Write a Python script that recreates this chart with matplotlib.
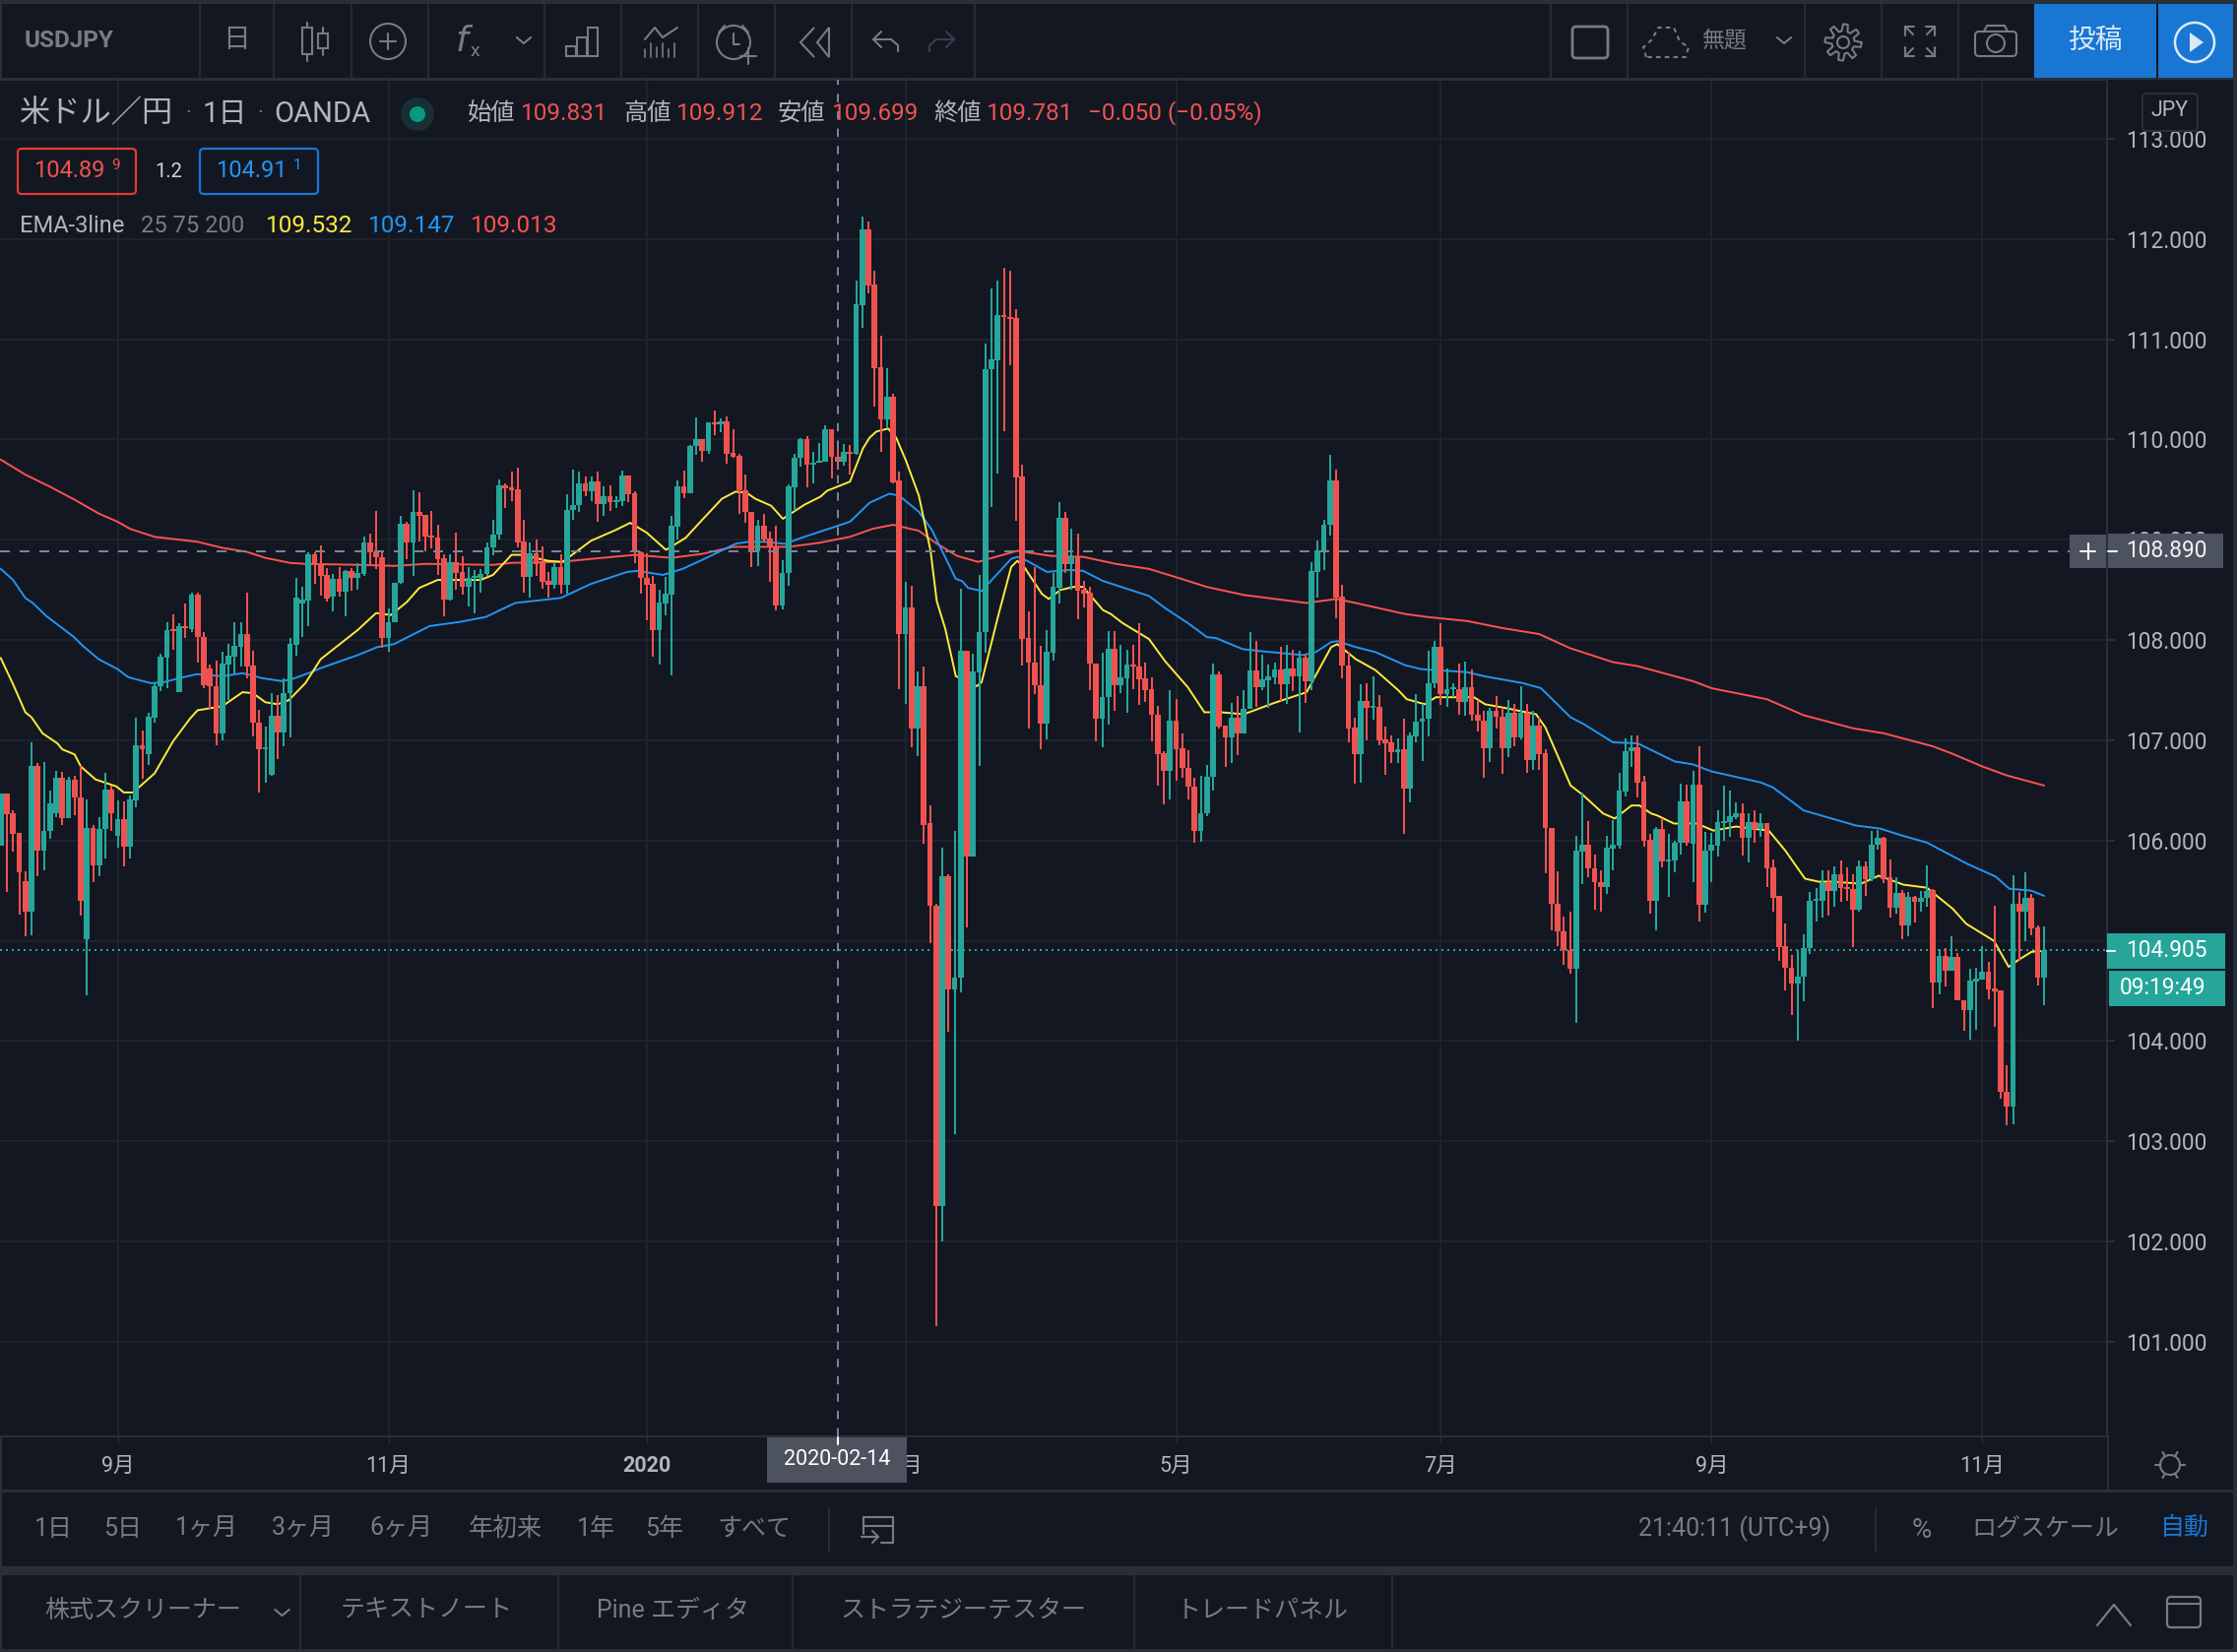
#!/usr/bin/env python
import numpy as np
import matplotlib
matplotlib.use('Agg')
import matplotlib.pyplot as plt
from matplotlib.patches import Rectangle, Circle, FancyBboxPatch, Polygon

plt.rcParams['font.family'] = ['Roboto', 'Noto Sans CJK JP', 'DejaVu Sans']

# Daily candles (first candle is cut by the left edge)
opens = [105.95,
  106.47,106.27,106.08,105.60,105.29,106.74,105.90,106.10,106.27,106.63,
  106.22,106.61,106.43,105.02,106.13,105.75,106.12,106.51,106.05,106.21,
  105.94,106.40,106.95,106.86,107.23,107.54,107.82,108.11,107.48,108.14,
  108.11,108.45,108.03,107.72,107.54,107.07,107.76,107.83,107.93,108.06,
  107.75,107.18,106.91,106.66,107.25,107.08,107.47,107.95,108.36,108.39,
  108.86,108.75,108.65,108.43,108.61,108.48,108.69,108.62,108.66,108.97,
  108.88,108.83,108.02,108.18,108.57,109.16,108.97,109.28,109.25,109.04,
  109.02,108.82,108.40,108.78,108.68,108.53,108.62,108.62,108.66,108.92,
  109.05,109.54,109.52,109.50,108.98,108.63,108.87,108.79,108.59,108.55,
  108.73,108.55,109.30,109.35,109.56,109.48,109.58,109.36,109.44,109.38,
  109.39,109.64,109.46,108.88,108.62,108.56,108.10,108.36,108.45,109.13,
  109.53,109.46,109.94,110.00,109.89,110.17,110.15,110.18,109.87,109.84,
  109.49,109.28,108.89,109.14,109.01,108.93,108.35,108.67,109.52,109.82,
  110.00,109.75,109.77,109.78,110.10,109.83,109.78,109.88,109.86,111.34,
  112.10,111.55,110.72,110.20,110.43,109.59,108.06,108.33,107.12,107.54,
  106.17,105.35,102.35,105.64,104.52,104.63,107.89,105.84,107.68,108.08,
  110.70,110.79,111.24,111.22,111.21,109.63,108.02,107.78,107.55,107.17,
  107.87,108.52,109.22,108.76,108.84,108.50,108.47,107.77,107.22,107.43,
  107.91,107.55,107.62,107.76,107.74,107.62,107.51,107.26,106.87,106.70,
  107.20,106.92,106.72,106.54,106.10,106.27,106.64,107.66,107.15,107.03,
  107.23,107.07,107.31,107.70,107.53,107.60,107.63,107.71,107.56,107.72,
  107.64,107.82,107.59,108.68,108.90,109.15,109.59,108.43,107.75,107.13,
  106.86,107.39,107.32,107.33,107.01,106.98,106.88,106.91,106.52,107.04,
  107.19,107.22,107.57,107.93,107.46,107.51,107.51,107.38,107.53,107.26,
  107.20,106.92,107.29,107.24,106.92,107.27,107.03,107.27,106.80,107.15,
  106.87,106.13,105.37,105.09,104.91,104.72,105.89,105.96,105.72,105.59,
  105.54,105.92,105.95,106.49,106.89,106.93,106.59,106.01,105.40,106.12,
  105.79,105.80,105.98,106.39,105.97,106.56,105.36,105.90,105.95,106.17,
  106.18,106.23,106.27,106.03,106.18,106.12,106.17,105.73,105.45,104.95,
  104.73,104.57,104.64,104.93,105.40,105.40,105.58,105.50,105.66,105.54,
  105.52,105.31,105.74,105.62,105.96,106.03,105.63,105.33,105.48,105.15,
  105.44,105.39,105.43,105.51,104.58,104.85,104.70,104.84,104.41,104.31,
  104.59,104.61,104.69,104.53,104.51,103.49,103.35,105.37,105.29,105.43,105.13,104.63]
closes = [106.47,
  106.26,106.07,105.68,105.29,106.74,105.90,106.10,106.37,106.63,106.22,
  106.61,106.43,105.40,106.13,105.75,106.12,106.51,106.27,106.21,105.94,
  106.41,106.95,106.91,107.24,107.54,107.83,108.10,108.09,108.14,108.12,
  108.45,108.03,107.55,107.54,107.07,107.77,107.84,107.94,108.06,107.74,
  107.18,106.91,106.92,107.25,107.08,107.47,107.96,108.42,108.40,108.86,
  108.75,108.64,108.41,108.61,108.48,108.69,108.62,108.67,108.97,108.88,
  108.83,108.02,108.18,108.57,109.16,108.97,109.28,109.24,109.03,109.02,
  108.81,108.40,108.78,108.67,108.53,108.62,108.63,108.66,108.92,109.05,
  109.54,109.51,109.49,108.97,108.63,108.87,108.76,108.58,108.55,108.73,
  108.55,109.30,109.35,109.56,109.48,109.58,109.36,109.44,109.38,109.40,
  109.64,109.45,108.89,108.62,108.55,108.10,108.37,108.46,109.14,109.53,
  109.46,109.94,110.00,109.89,110.17,110.15,110.18,109.86,109.83,109.49,
  109.28,108.89,109.14,109.00,108.93,108.35,108.67,109.53,109.82,110.00,
  109.75,109.77,109.79,110.10,109.83,109.78,109.88,109.86,111.35,112.10,
  111.54,110.71,110.20,110.43,109.57,108.06,108.33,107.12,107.54,106.16,
  105.35,102.35,105.64,104.52,104.63,107.89,105.84,107.69,108.08,110.70,
  110.80,111.24,111.22,111.20,109.62,108.01,107.78,107.55,107.17,107.88,
  108.53,109.22,108.76,108.84,108.49,108.46,107.77,107.22,107.43,107.91,
  107.55,107.63,107.76,107.74,107.61,107.50,107.26,106.86,106.70,107.20,
  106.91,106.72,106.54,106.10,106.27,106.64,107.66,107.14,107.03,107.23,
  107.07,107.31,107.70,107.53,107.61,107.64,107.71,107.56,107.72,107.64,
  107.82,107.59,108.69,108.90,109.15,109.59,108.42,107.75,107.12,106.86,
  107.39,107.32,107.33,107.00,106.97,106.88,106.91,106.52,107.05,107.19,
  107.22,107.57,107.93,107.46,107.51,107.52,107.38,107.53,107.26,107.20,
  106.92,107.29,107.24,106.92,107.27,107.03,107.27,106.80,107.15,106.86,
  106.13,105.37,105.09,104.91,104.72,105.90,105.96,105.72,105.59,105.54,
  105.93,105.96,106.50,106.89,106.93,106.58,106.00,105.40,106.12,105.79,
  105.80,105.98,106.39,105.98,106.56,105.36,105.90,105.96,106.18,106.19,
  106.24,106.27,106.03,106.18,106.12,106.17,105.72,105.43,104.94,104.73,
  104.57,104.64,104.93,105.40,105.41,105.58,105.50,105.66,105.53,105.52,
  105.31,105.74,105.62,105.96,106.03,105.62,105.33,105.48,105.15,105.44,
  105.39,105.43,105.50,104.58,104.85,104.70,104.84,104.41,104.31,104.60,
  104.62,104.69,104.52,104.50,103.49,103.35,105.37,105.29,105.43,105.12,104.63,104.905]
highs = [106.47,
  106.47,106.30,106.08,105.69,106.98,106.77,106.78,106.50,106.70,106.69,
  106.64,106.65,106.74,106.41,106.16,106.23,106.68,106.55,106.40,106.39,
  106.45,107.23,107.10,107.27,107.58,107.86,108.18,108.26,108.17,108.36,
  108.47,108.47,108.08,107.76,107.80,107.88,107.96,108.18,108.18,108.47,
  107.89,107.30,107.14,107.47,107.45,107.62,108.02,108.62,108.53,108.88,
  108.88,108.94,108.72,108.66,108.73,108.70,108.72,108.77,109.03,109.06,
  109.29,108.90,108.32,108.57,109.24,109.18,109.49,109.47,109.25,109.29,
  109.15,108.86,108.86,109.07,108.84,108.73,108.70,108.71,108.97,109.20,
  109.60,109.56,109.68,109.72,109.20,108.97,109.00,108.93,108.68,108.77,
  108.86,109.45,109.70,109.68,109.63,109.63,109.68,109.53,109.54,109.44,
  109.69,109.64,109.48,108.89,108.87,108.64,108.50,108.63,109.24,109.59,
  109.69,109.95,110.22,110.00,110.17,110.29,110.21,110.23,110.10,109.86,
  109.65,109.28,109.20,109.26,109.08,109.14,108.80,109.55,109.86,110.01,
  110.03,109.88,109.97,110.14,110.10,109.91,109.96,109.95,111.59,112.22,
  112.18,111.68,111.04,110.71,110.46,109.68,108.58,108.54,107.69,107.74,
  106.35,105.37,105.93,105.66,106.10,108.51,107.89,107.86,108.65,110.96,
  111.51,111.59,111.71,111.68,111.30,109.75,108.29,108.73,107.94,108.10,
  108.67,109.38,109.28,109.11,109.06,108.59,108.53,107.77,107.87,108.09,
  108.09,107.95,107.90,107.95,108.17,107.78,107.63,107.34,106.89,107.50,
  107.41,107.07,106.90,106.63,106.65,106.75,107.77,107.69,107.15,107.37,
  107.44,107.50,108.08,107.99,107.85,107.76,107.78,107.93,107.95,107.90,
  107.89,107.86,108.78,108.99,109.20,109.85,109.70,108.55,107.88,107.23,
  107.56,107.57,107.64,107.45,107.14,107.05,107.02,107.22,107.08,107.46,
  107.36,107.89,107.99,108.17,107.72,107.57,107.77,107.79,107.71,107.40,
  107.29,107.32,107.44,107.32,107.40,107.36,107.54,107.36,107.29,107.23,
  106.91,106.13,105.69,105.24,105.29,106.05,106.48,106.19,105.86,105.70,
  106.05,106.20,106.68,107.02,107.05,107.05,106.65,106.07,106.14,106.22,
  106.07,106.00,106.57,106.56,106.70,106.94,106.09,106.08,106.30,106.55,
  106.50,106.38,106.37,106.27,106.30,106.27,106.17,105.81,105.45,105.17,
  104.86,104.91,105.07,105.49,105.53,105.70,105.70,105.74,105.80,105.73,
  105.66,105.80,105.79,106.10,106.11,106.04,105.81,105.63,105.51,105.49,
  105.45,105.50,105.75,105.52,104.92,104.93,105.05,104.88,104.41,104.72,
  104.73,104.95,104.79,105.35,104.51,103.76,105.65,105.49,105.68,105.47,105.15,105.14]
lows = [105.95,
  105.49,105.89,105.26,105.05,105.06,105.64,105.70,106.02,106.23,106.16,
  106.22,106.25,105.25,104.46,105.59,105.64,105.82,106.10,105.93,105.74,
  105.82,106.33,106.62,106.75,107.18,107.49,107.52,107.90,107.48,108.02,
  108.08,107.78,107.52,107.31,106.95,107.00,107.40,107.66,107.74,107.62,
  107.04,106.48,106.58,106.65,106.81,106.94,107.03,107.84,108.03,108.14,
  108.56,108.44,108.38,108.29,108.43,108.24,108.49,108.50,108.64,108.75,
  108.71,107.92,107.88,108.18,108.56,108.81,108.64,108.98,108.89,108.91,
  108.65,108.24,108.39,108.50,108.45,108.34,108.27,108.47,108.64,108.85,
  109.00,109.32,109.39,108.92,108.47,108.42,108.64,108.51,108.42,108.51,
  108.46,108.46,109.20,109.28,109.44,109.39,109.18,109.24,109.29,109.32,
  109.34,109.38,108.77,108.46,108.20,107.83,107.76,108.25,107.65,109.00,
  109.42,109.46,109.85,109.78,109.86,110.04,110.07,109.76,109.82,109.26,
  109.17,108.73,108.74,108.97,108.58,108.30,108.31,108.54,109.29,109.73,
  109.52,109.56,109.77,109.78,109.61,109.70,109.74,109.65,109.85,111.11,
  111.46,110.33,109.88,110.12,109.56,107.51,107.36,106.93,106.84,105.97,
  104.98,101.16,102.00,104.09,103.07,104.49,105.13,105.84,106.74,107.87,
  109.33,109.66,110.08,110.74,109.19,107.75,107.12,107.46,106.91,107.01,
  107.80,108.36,108.67,108.50,108.21,108.33,107.50,106.99,106.93,107.16,
  107.29,107.47,107.27,107.51,107.35,107.38,106.99,106.55,106.36,106.41,
  106.60,106.63,106.41,105.98,105.99,106.24,106.50,107.12,106.73,106.77,
  106.85,107.07,107.31,107.33,107.50,107.32,107.56,107.39,107.36,107.49,
  107.08,107.37,107.50,108.42,108.70,109.04,108.22,107.62,106.98,106.57,
  106.58,107.00,107.21,106.95,106.66,106.77,106.77,106.07,106.38,106.98,
  106.79,107.04,107.52,107.35,107.33,107.43,107.26,107.25,107.20,107.09,
  106.63,106.78,107.12,106.67,106.83,106.94,107.01,106.68,106.71,106.71,
  105.67,105.10,104.95,104.76,104.67,104.18,105.57,105.63,105.31,105.29,
  105.47,105.70,105.92,106.44,106.73,106.43,105.94,105.27,105.10,105.73,
  105.44,105.68,105.86,105.95,105.59,105.19,105.28,105.59,105.84,106.00,
  106.04,106.21,105.85,105.78,105.98,106.04,105.54,105.29,104.80,104.51,
  104.26,104.00,104.40,104.87,105.19,105.23,105.25,105.34,105.39,105.40,
  104.94,105.29,105.45,105.60,105.91,105.58,105.23,105.27,105.02,105.05,
  105.18,105.29,105.34,104.33,104.47,104.54,104.70,104.41,104.10,104.01,
  104.11,104.61,104.42,104.14,103.43,103.16,103.17,104.80,105.00,105.06,104.55,104.36]

# EMA lines read at candle positions
ema200_x = [-1,3,7,11,15,18,20,24,31,35,39,42,46,48.5,57.5,63,68,79,82,90,95,102,108,113,118,127,
            132,137,140.7,144,148.2,150.9,154.4,157.8,164.2,169.6,174.9,180.2,185.6,190.9,195,201,
            211.2,216,219.2,227.2,230.9,237.3,243,249,254,261,265,274,277,286,292,300,305,313,316,
            321,325,331]
ema200_y = [109.80,109.65,109.53,109.40,109.26,109.18,109.11,109.03,108.98,108.92,108.88,108.82,108.77,
            108.76,108.75,108.74,108.76,108.75,108.77,108.78,108.81,108.85,108.82,108.86,108.93,108.93,
            108.97,109.03,109.11,109.15,109.09,108.97,108.84,108.78,108.89,108.84,108.83,108.76,108.71,
            108.61,108.53,108.45,108.37,108.41,108.37,108.26,108.23,108.19,108.12,108.06,107.92,107.78,
            107.74,107.59,107.52,107.41,107.25,107.12,107.07,106.94,106.87,106.74,106.65,106.55]
ema75_x = [-1,1,3,4.2,6.4,10.9,12.2,14.9,18,19.7,23.4,25.5,28.7,30.9,35.1,38.3,41.5,44.7,46.3,49,51,
           57,60.2,62.9,68.7,73.5,77.8,82.6,90,94.9,100.8,102.4,106.6,109.8,113,118.4,120.5,123.2,
           126.4,129.6,137,140.2,143.4,145,148.2,150.3,154.2,155.2,156.2,158.4,163.2,164.2,165.8,169,
           172.8,174.9,178.1,185.6,188.2,191.9,195,196.5,200.8,203.7,210.6,212.7,215.2,216.2,219.2,
           222.4,227.2,229.8,237.3,240,246.4,249.3,254.1,256.3,261,265,268,271,274,277,285,287,292,
           300.5,304.4,308,312,318.5,323.2,325.4,329,331]
ema75_y = [108.71,108.60,108.42,108.37,108.24,108.03,107.95,107.81,107.71,107.63,107.57,107.58,107.63,
           107.66,107.64,107.67,107.62,107.59,107.61,107.67,107.72,107.85,107.93,107.96,108.14,108.18,
           108.23,108.37,108.42,108.56,108.68,108.69,108.65,108.71,108.80,108.96,108.98,108.98,108.96,
           109.03,109.18,109.37,109.46,109.44,109.28,109.10,108.61,108.59,108.52,108.49,108.81,108.83,
           108.79,108.68,108.70,108.69,108.59,108.44,108.32,108.17,108.03,108.02,107.91,107.89,107.85,
           107.88,107.98,107.99,107.93,107.88,107.75,107.71,107.68,107.64,107.57,107.52,107.23,107.16,
           106.98,106.97,106.88,106.79,106.76,106.69,106.58,106.53,106.30,106.15,106.12,106.05,105.98,
           105.77,105.64,105.52,105.50,105.45]
ema25_x = [-1,1,3,4,5.8,8.2,9,11,12,14.4,17.8,19,20.5,24,27,29.8,31,35,38.3,40,42,44,45.8,48.5,51,57,
           60,62.4,65,67,70,73.5,77,79,82,83.7,88,90.3,94.9,99,101.3,104,107.1,110.3,113,116.2,118.4,
           120.2,121.6,124.2,126.1,129.6,132.2,133.3,137,139.1,140.2,141.3,143.2,144.5,146.1,148.2,
           150.1,151.1,152.5,154.2,157.6,158.4,161,163.2,164.2,165.3,168.2,169.3,171.2,173.3,174.9,
           178.1,179.4,181.3,185.6,188.2,191.9,194.6,197.3,201,205.8,211.2,215.2,216.2,219.2,222.4,
           226.1,227.5,230.4,232.2,238.4,240.2,243.7,248.5,250,254.1,256.2,259.4,261.3,264,265.3,267.2,
           268.2,270.9,274.6,277.3,281,286.3,289,292.2,294.4,296.5,301.3,304.2,308.2,312,316.2,318.4,
           322.9,325.3,326.9,329,331]
ema25_y = [107.82,107.56,107.28,107.23,107.07,106.97,106.91,106.86,106.74,106.61,106.54,106.48,106.48,
           106.67,106.99,107.22,107.30,107.34,107.48,107.47,107.38,107.36,107.40,107.57,107.81,108.10,
           108.27,108.25,108.38,108.52,108.60,108.60,108.60,108.65,108.85,108.85,108.79,108.78,108.99,
           109.10,109.17,109.07,108.90,109.02,109.20,109.41,109.48,109.47,109.41,109.34,109.21,109.35,
           109.43,109.49,109.58,109.91,110.02,110.08,110.11,110.02,109.79,109.44,108.89,108.39,108.11,
           107.64,107.54,107.58,108.22,108.73,108.79,108.73,108.46,108.41,108.50,108.53,108.53,108.30,
           108.26,108.17,108.01,107.79,107.53,107.28,107.28,107.26,107.37,107.48,107.93,107.96,107.81,
           107.70,107.50,107.41,107.36,107.43,107.43,107.36,107.32,107.26,107.13,106.55,106.45,106.27,
           106.22,106.35,106.35,106.27,106.25,106.17,106.17,106.10,106.14,106.10,105.90,105.62,105.59,
           105.59,105.57,105.65,105.56,105.53,105.32,105.17,105.00,104.74,104.81,104.89,104.90]

price_ticks = [101,102,103,104,105,106,107,108,109,110,111,112,113]
month_pos = [18,62,104,146,190,233,277,321]
month_labels = ['9月','11月','2020','3月','5月','7月','9月','11月']
crosshair_idx = 135
crosshair_price = 108.89
last_price = 104.905

BG = '#131722'
LINE = '#2a2e39'
GRID = '#1e222d'
GREEN = '#26a69a'
RED = '#ef5350'
TXT = '#b2b5be'
DIM = '#787b86'
BLUE = '#1976d2'
W, H = 2272, 1678

fig = plt.figure(figsize=(W/100, H/100), dpi=100, facecolor=LINE)

# panel backgrounds
bg = fig.add_axes([0, 0, 1, 1], zorder=0)
bg.set_xlim(0, W); bg.set_ylim(H, 0); bg.axis('off')
for y0, y1 in [(4, 79), (81, 1513), (1516, 1591), (1600, 1675)]:
  bg.add_patch(Rectangle((2, y0), W-6, y1-y0, fc=BG, ec='none'))

# Main chart
ax = fig.add_axes([0, (H-1459)/H, 2140/W, (1459-81)/H], zorder=1, facecolor=BG)
xs = np.arange(-1, len(opens)-1)
o, c, h, l = map(np.array, (opens, closes, highs, lows))
ax.set_xlim((0-7)/6.25, (2140-7)/6.25)
ax.set_ylim(113-(1459-141)/101.83, 113+(141-81)/101.83)

cols = np.where(c >= o, GREEN, RED)
ax.vlines(xs, l, h, colors=cols, linewidth=1.44, zorder=5)
ax.bar(xs, np.maximum(np.abs(c-o), 0.02), bottom=np.minimum(o, c), width=0.94, color=cols, linewidth=0, zorder=6)

ax.plot(ema200_x, ema200_y, color='#ff5252', lw=1.4, zorder=4)
ax.plot(ema75_x, ema75_y, color='#2196f3', lw=1.4, zorder=4)
ax.plot(ema25_x, ema25_y, color='#ffeb3b', lw=1.4, zorder=4)

ax.axhline(last_price, color=GREEN, lw=1.44, linestyle=(0, (1.0, 2.0)), zorder=3)
ax.axvline(crosshair_idx, color='#758696', lw=1.44, linestyle=(0, (4.2, 4.6)), zorder=8)
ax.plot([ax.get_xlim()[0], (2102-7)/6.25], [crosshair_price]*2, color='#758696', lw=1.44,
        linestyle=(0, (5, 5)), zorder=8)

ax.set_yticks(price_ticks)
ax.set_yticklabels(['%.3f' % p for p in price_ticks])
ax.yaxis.tick_right()
ax.set_xticks(month_pos)
ax.set_xticklabels(month_labels)
ax.grid(True, color=GRID, lw=1.44, zorder=0)
ax.set_axisbelow(True)
ax.tick_params(axis='y', colors=TXT, length=6, width=1.44, color=LINE, labelsize=16.3, pad=8)
ax.tick_params(axis='x', colors=TXT, length=5, width=1.0, color=LINE, labelsize=15.5, pad=9)
ax.get_xticklabels()[2].set_fontweight('bold')
for name, sp in ax.spines.items():
  sp.set_visible(name in ('right', 'bottom', 'top'))
  sp.set_color(LINE)
  sp.set_linewidth(1.5)

# UI drawn in pixel coordinates
ui = fig.add_axes([0, 0, 1, 1], zorder=2)
ui.set_xlim(0, W); ui.set_ylim(H, 0); ui.axis('off'); ui.patch.set_alpha(0)

def txt(x, y, s, size, color=TXT, ha='center', weight='normal', **kw):
  ui.text(x, y, s, fontsize=size, color=color, ha=ha, va='center', fontweight=weight, **kw)

def seg(px, py, color=DIM, lw=1.5, **kw):
  ui.plot(px, py, color=color, lw=lw, solid_capstyle='round', **kw)

def rbox(x0, y0, x1, y1, ec=DIM, lw=1.5, r=4, fc='none'):
  ui.add_patch(FancyBboxPatch((x0+r, y0+r), x1-x0-2*r, y1-y0-2*r, boxstyle='round,pad=%d' % r, fc=fc, ec=ec, lw=lw))

def ring(x, y, r, ec=DIM, lw=1.5, fc='none'):
  ui.add_patch(Circle((x, y), r, fc=fc, ec=ec, lw=lw))

def chevron(x, y, up=False, s=6):
  d = -s if up else s
  seg([x-s*1.2, x, x+s*1.2], [y-d/2, y+d/2, y-d/2])

# top toolbar
for x in [203, 278, 357, 435, 553, 631, 709, 787, 865, 990, 1575, 1653, 1833, 1911, 1989]:
  seg([x, x], [4, 79], color=LINE, lw=1.2)
txt(25, 42, 'USDJPY', 17.5, DIM, ha='left', weight='bold')
txt(240, 41, '日', 20, DIM)
# candle icon
seg([312, 312], [23, 62]); seg([328, 328], [28, 56])
ui.add_patch(Rectangle((307, 28), 10, 27, fc=BG, ec=DIM, lw=1.5, zorder=4))
ui.add_patch(Rectangle((323, 34), 10, 15, fc=BG, ec=DIM, lw=1.5, zorder=4))
# add indicator
ring(394, 42, 18); seg([386, 402], [42, 42]); seg([394, 394], [34, 50])
txt(469, 42, 'f', 26, DIM, family='DejaVu Sans', style='italic')
txt(482, 52, 'x', 14, DIM)
chevron(532, 41)
# bars icon
for x0, y0 in [(575, 47), (586, 38), (597, 28)]:
  ui.add_patch(Rectangle((x0, y0), 10, 57-y0, fc='none', ec=DIM, lw=1.5))
# chart icon
seg([655, 665, 673, 688], [40, 28, 38, 28])
for x, y in [(655, 50), (661, 44), (667, 48), (673, 44), (679, 50), (685, 44)]:
  seg([x, x], [y, 58], lw=1.2)
# alarm icon
ring(745, 43, 17); seg([745, 745, 751], [34, 45, 45])
seg([730, 736], [33, 26]); seg([754, 760], [26, 33])
seg([752, 768], [57, 57]); seg([760, 760], [49, 65])
# rewind
ui.add_patch(Polygon([[827, 28], [813, 43], [827, 58]], closed=False, fill=False, ec=DIM, lw=1.5))
ui.add_patch(Polygon([[842, 28], [830, 43], [842, 58]], closed=True, fill=False, ec=DIM, lw=1.5))
# undo / redo
seg([895, 887, 895], [32, 40, 48]); seg([887, 905, 912, 912], [40, 40, 46, 52])
seg([961, 969, 961], [32, 40, 48], color='#3a3e4a'); seg([969, 951, 944, 944], [40, 40, 46, 52], color='#3a3e4a')
# right part of toolbar
rbox(1597, 27, 1633, 59, lw=2)
seg([1672, 1669, 1678, 1684, 1700, 1706, 1715, 1712, 1672], [58, 48, 40, 28, 28, 42, 48, 58, 58], ls=(0, (2.2, 2)))
txt(1751, 41, '無題', 16.5, DIM)
chevron(1812, 41)
ang = np.linspace(0, 2*np.pi, 49)
rad = 15 + 3.5*np.sign(np.sin(8*ang + 0.4))
seg(1872 + rad*np.cos(ang), 43 + rad*np.sin(ang)); ring(1872, 43, 6)
for sx, sy in [(-1, -1), (1, -1), (-1, 1), (1, 1)]:
  cx, cy = 1950 + 15*sx, 42 + 15*sy
  seg([cx, cx], [cy, cy - 9*sy]); seg([cx, cx - 9*sx], [cy, cy]); seg([cx, cx - 8*sx], [cy, cy - 8*sy])
rbox(2006, 32, 2048, 57, lw=1.5); ring(2027, 44, 9)
seg([2015, 2018, 2036, 2039], [32, 26, 26, 32])
ui.add_patch(Rectangle((2066, 4), 124, 75, fc=BLUE, ec='none'))
ui.add_patch(Rectangle((2192, 4), 76, 75, fc=BLUE, ec='none'))
txt(2128, 41, '投稿', 20, '#dbe9f8')
ring(2229, 43, 20, ec='#dbe9f8', lw=1.8)
ui.add_patch(Polygon([[2224, 33], [2238, 43], [2224, 53]], fc='#dbe9f8', ec='none'))

# legend rows
txt(20, 116, '米ドル／円', 22.5, ha='left')
txt(191, 116, '·', 16, DIM)
txt(206, 116, '1日', 21, ha='left')
txt(264, 116, '·', 16, DIM)
txt(278, 116, 'OANDA', 21, ha='left')
ui.add_patch(Circle((424, 116), 17, fc='#163034', ec='none'))
ui.add_patch(Circle((424, 116), 8, fc='#089981', ec='none'))
for x0, lab, x1, val in [(475, '始値', 529, '109.831'), (633, '高値', 687, '109.912'),
                         (790, '安値', 845, '109.699'), (948, '終値', 1002, '109.781')]:
  txt(x0, 115, lab, 17.5, ha='left')
  txt(x1, 115, val, 17.5, RED, ha='left')
txt(1105, 115, '−0.050 (−0.05%)', 17.5, RED, ha='left')

rbox(18, 151, 138, 197, ec='#e53935', lw=1.6)
txt(34, 174, '104.89', 17, RED, ha='left')
txt(113, 168, '9', 11, RED, ha='left')
txt(171, 175, '1.2', 14.5, '#d1d4dc')
rbox(203, 151, 323, 197, ec=BLUE, lw=1.6)
txt(219, 174, '104.91', 17, '#2196f3', ha='left')
txt(298, 168, '1', 11, '#2196f3', ha='left')

txt(20, 230, 'EMA-3line', 17, ha='left')
txt(143, 230, '25 75 200', 17, DIM, ha='left')
txt(270, 230, '109.532', 17.5, '#ffeb3b', ha='left')
txt(374, 230, '109.147', 17.5, '#2196f3', ha='left')
txt(478, 230, '109.013', 17.5, '#ff5252', ha='left')

# price scale extras
rbox(2176, 95, 2232, 133, ec=LINE, lw=1.5, fc=BG)
txt(2204, 113, 'JPY', 15.5)
ui.add_patch(Rectangle((2102, 543), 37, 34, fc='#4c525e', ec='none'))
seg([2113, 2128], [560, 560], color='#f0f3fa'); seg([2120.5, 2120.5], [552, 568], color='#f0f3fa')
ui.add_patch(Rectangle((2141, 542), 117, 35, fc='#4c525e', ec='none'))
seg([2141, 2150], [560, 560], color='#f0f3fa', lw=1.5)
txt(2200, 559, '108.890', 16.3, '#f0f3fa')
ui.add_patch(Rectangle((2140, 948), 120, 36, fc=GREEN, ec='none'))
seg([2140, 2148], [966, 966], color='#ffffff', lw=1.5)
txt(2200, 965, '104.905', 16.3, '#ffffff')
ui.add_patch(Rectangle((2142, 986), 118, 36, fc=GREEN, ec='none'))
txt(2197, 1003, '09:19:49', 16.3, '#ffffff')

# crosshair date label
ui.add_patch(Rectangle((779, 1460), 142, 46, fc='#4c525e', ec='none'))
seg([850.7, 850.7], [1460, 1467], color='#ffffff', lw=1.5)
txt(850, 1483, '2020-02-14', 15.5, '#ffffff')
# sun icon
ring(2204, 1488, 10)
for a in np.arange(0, 2*np.pi, np.pi/3):
  seg([2204+11*np.cos(a), 2204+15*np.cos(a)], [1488+11*np.sin(a), 1488+15*np.sin(a)])
seg([2140.7, 2140.7], [1459, 1514], color=LINE, lw=1.5)

# range bar
for x, s in [(54.5, '1日'), (125, '5日'), (209.5, '1ヶ月'), (308, '3ヶ月'), (407, '6ヶ月'),
             (513, '年初来'), (605, '1年'), (675, '5年'), (766, 'すべて')]:
  txt(x, 1553, s, 18, DIM)
seg([842, 842], [1532, 1576], color=LINE, lw=1.2)
seg([877, 877, 907, 907], [1541, 1550, 1550, 1541]); seg([877, 877], [1550, 1558])
seg([877, 907, 907, 895], [1541, 1541, 1567, 1567]); seg([875, 892, 886], [1561, 1561, 1555]); seg([892, 886], [1561, 1567])
txt(1762, 1553, '21:40:11 (UTC+9)', 18, DIM)
seg([1905, 1905], [1532, 1576], color=LINE, lw=1.2)
txt(1952, 1554, '%', 20, DIM)
txt(2077, 1552, 'ログスケール', 18, DIM)
txt(2219, 1552, '自動', 18, BLUE)

# bottom tabs
for x in [305, 566.5, 805, 1151.5, 1414]:
  seg([x, x], [1600, 1675], color=LINE, lw=1.2)
for x, s in [(145, '株式スクリーナー'), (433.5, 'テキストノート'), (684, 'Pine エディタ'),
             (978, 'ストラテジーテスター'), (1282, 'トレードパネル')]:
  txt(x, 1636, s, 18, DIM)
chevron(286.5, 1638)
seg([2130, 2147, 2164], [1651, 1630, 1651], lw=1.6)
rbox(2201, 1622, 2235, 1653, lw=1.6); seg([2201, 2235], [1629, 1629])

fig.savefig('out.png', dpi=100, facecolor=fig.get_facecolor())
